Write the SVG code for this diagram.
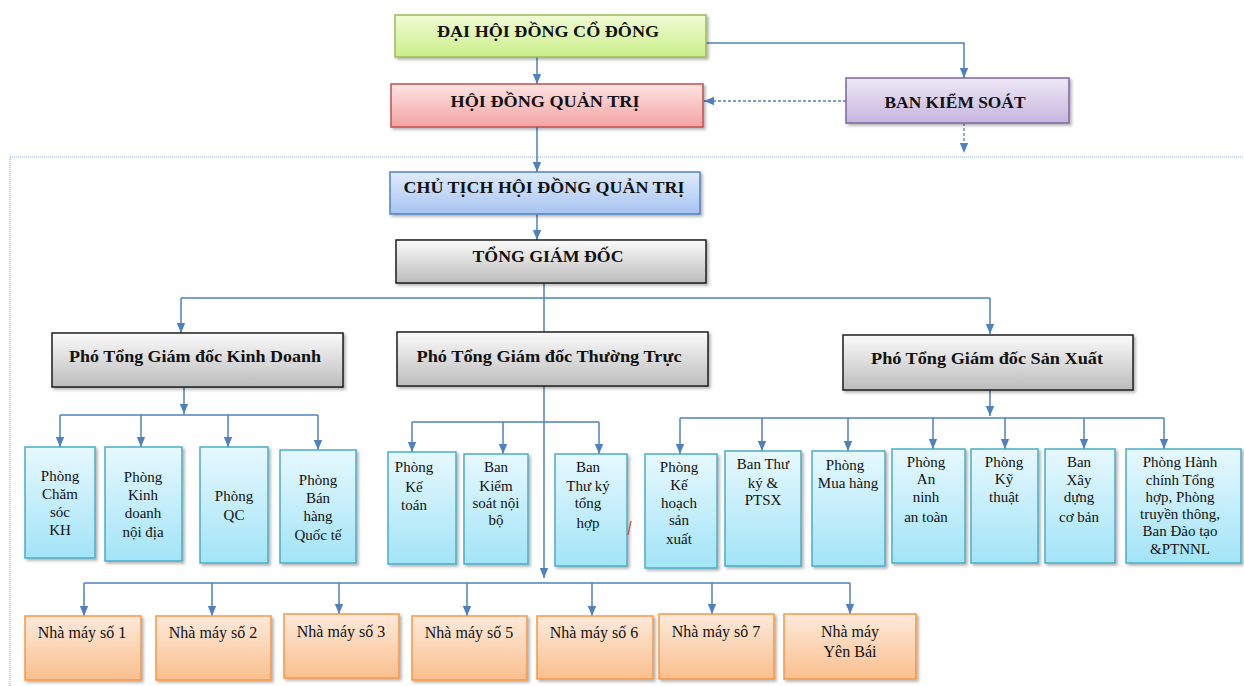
<svg xmlns="http://www.w3.org/2000/svg" width="1244" height="686" viewBox="0 0 1244 686">
<defs>
<linearGradient id="gGreen" x1="0" y1="0" x2="0" y2="1"><stop offset="0" stop-color="#f1fcd6"/><stop offset="1" stop-color="#c9ee88"/></linearGradient>
<linearGradient id="gRed" x1="0" y1="0" x2="0" y2="1"><stop offset="0" stop-color="#fde4e4"/><stop offset="1" stop-color="#f5a2a2"/></linearGradient>
<linearGradient id="gPurple" x1="0" y1="0" x2="0" y2="1"><stop offset="0" stop-color="#eee8f6"/><stop offset="1" stop-color="#c6b5df"/></linearGradient>
<linearGradient id="gBlue" x1="0" y1="0" x2="0" y2="1"><stop offset="0" stop-color="#e0ebfc"/><stop offset="1" stop-color="#a6c4f1"/></linearGradient>
<linearGradient id="gGray" x1="0" y1="0" x2="0" y2="1"><stop offset="0" stop-color="#fbfbfb"/><stop offset="1" stop-color="#bcbcbc"/></linearGradient>
<linearGradient id="gCyan" x1="0" y1="0" x2="0" y2="1"><stop offset="0" stop-color="#e7f8fe"/><stop offset="1" stop-color="#a2e4f7"/></linearGradient>
<linearGradient id="gOrange" x1="0" y1="0" x2="0" y2="1"><stop offset="0" stop-color="#fdeadb"/><stop offset="1" stop-color="#fbbf8e"/></linearGradient>
<filter id="sh" x="-10%" y="-10%" width="130%" height="140%"><feDropShadow dx="2" dy="2" stdDeviation="1.5" flood-color="#000" flood-opacity="0.3"/></filter>
<marker id="arr" markerUnits="userSpaceOnUse" markerWidth="10" markerHeight="10" viewBox="0 0 10 10" refX="10" refY="5" orient="auto"><path d="M0 0.8 L10 5 L0 9.2 Z" fill="#4f81bd"/></marker>
<style>
.box{filter:url(#sh);}
.green{fill:url(#gGreen);stroke:#9bbb59;stroke-width:1.5;}
.red{fill:url(#gRed);stroke:#c0504d;stroke-width:1.5;}
.purple{fill:url(#gPurple);stroke:#8064a2;stroke-width:1.5;}
.blue{fill:url(#gBlue);stroke:#4f81bd;stroke-width:1.5;}
.gray{fill:url(#gGray);stroke:#1e1e1e;stroke-width:1.5;}
.cyan{fill:url(#gCyan);stroke:#4bacc6;stroke-width:1.5;}
.orange{fill:url(#gOrange);stroke:#f79646;stroke-width:1.5;}
text{font-family:"Liberation Serif","Times New Roman",serif;fill:#111;text-anchor:middle;}
.t1{font-size:17px;font-weight:bold;}
.t2{font-size:16px;font-weight:bold;}
.t3{font-size:15px;}
.t4{font-size:16px;}
.ln{fill:none;stroke:#4f81bd;stroke-width:1.5;}
.la{fill:none;stroke:#4f81bd;stroke-width:1.5;marker-end:url(#arr);}
.ld{fill:none;stroke:#4f81bd;stroke-width:1.3;stroke-dasharray:3 2;marker-end:url(#arr);}
.dot{fill:none;stroke:#8eb4e3;stroke-width:1.2;stroke-dasharray:1 1;}
</style>
</defs>
<rect width="1244" height="686" fill="#ffffff"/>

<g id="frame">
<path class="dot" d="M10 157 H1244 M10 157 V686"/>
</g>

<g id="connectors">
<path class="la" d="M537 57 V84"/>
<path class="la" d="M706 43 H964 V78"/>
<path class="ld" d="M846 101 H704"/>
<path class="ld" d="M964 123 V153"/>
<path class="la" d="M537 127 V172"/>
<path class="la" d="M537 214 V240"/>
<path class="ln" d="M544 283 V332"/>
<path class="ln" d="M181 298 H990"/>
<path class="la" d="M181 298 V333"/>
<path class="la" d="M990 298 V334"/>
<path class="la" d="M184 387 V414"/>
<path class="ln" d="M60 415 H318"/>
<path class="la" d="M60 415 V447"/>
<path class="la" d="M141 415 V447"/>
<path class="la" d="M228 415 V447"/>
<path class="la" d="M318 415 V450"/>
<path class="la" d="M544 386 V578"/>
<path class="ln" d="M412 422 H599"/>
<path class="la" d="M412 422 V452"/>
<path class="la" d="M503 422 V454"/>
<path class="la" d="M599 422 V454"/>
<path class="la" d="M990 390 V416"/>
<path class="ln" d="M680 418 H1164"/>
<path class="la" d="M680 418 V454"/>
<path class="la" d="M762 418 V451"/>
<path class="la" d="M848 418 V451"/>
<path class="la" d="M933 418 V449"/>
<path class="la" d="M1005 418 V449"/>
<path class="la" d="M1084 418 V449"/>
<path class="la" d="M1164 418 V449"/>
<path class="ln" d="M84 583 H850"/>
<path class="la" d="M84 583 V616"/>
<path class="la" d="M212 583 V616"/>
<path class="la" d="M339 583 V614"/>
<path class="la" d="M467 583 V616"/>
<path class="la" d="M592 583 V616"/>
<path class="la" d="M712 583 V614"/>
<path class="la" d="M850 583 V614"/>
</g>

<g id="dhdcd"><rect class="box green" x="395" y="15" width="311" height="42"/><text class="t1" x="548" y="37" textLength="222" lengthAdjust="spacingAndGlyphs">ĐẠI HỘI ĐỒNG CỔ ĐÔNG</text></g>
<g id="hdqt"><rect class="box red" x="391" y="84" width="312" height="43"/><text class="t1" x="545" y="107" textLength="189" lengthAdjust="spacingAndGlyphs">HỘI ĐỒNG QUẢN TRỊ</text></g>
<g id="bks"><rect class="box purple" x="846" y="78" width="223" height="45"/><text class="t1" x="955" y="108" textLength="141" lengthAdjust="spacingAndGlyphs">BAN KIỂM SOÁT</text></g>
<g id="cthdqt"><rect class="box blue" x="390" y="172" width="310" height="42"/><text class="t1" x="544" y="193" textLength="281" lengthAdjust="spacingAndGlyphs">CHỦ TỊCH HỘI ĐỒNG QUẢN TRỊ</text></g>
<g id="tgd"><rect class="box gray" x="396" y="240" width="310" height="43"/><text class="t1" x="548" y="262" textLength="151" lengthAdjust="spacingAndGlyphs">TỔNG GIÁM ĐỐC</text></g>
<g id="ptgd-kd"><rect class="box gray" x="52" y="333" width="291" height="54"/><text class="t2" x="195" y="362" textLength="252" lengthAdjust="spacingAndGlyphs">Phó Tổng Giám đốc Kinh Doanh</text></g>
<g id="ptgd-tt"><rect class="box gray" x="397" y="332" width="311" height="54"/><text class="t2" x="549" y="362" textLength="265" lengthAdjust="spacingAndGlyphs">Phó Tổng Giám đốc Thường Trực</text></g>
<g id="ptgd-sx"><rect class="box gray" x="843" y="335" width="290" height="55"/><text class="t2" x="987" y="364" textLength="232" lengthAdjust="spacingAndGlyphs">Phó Tổng Giám đốc Sản Xuất</text></g>

<g id="p-cskh"><rect class="box cyan" x="25" y="447" width="70" height="111"/><text class="t3" x="60"><tspan x="60" y="481">Phòng</tspan><tspan x="60" y="499">Chăm</tspan><tspan x="60" y="517">sóc</tspan><tspan x="60" y="535">KH</tspan></text></g>
<g id="p-kdnd"><rect class="box cyan" x="105" y="447" width="77" height="114"/><text class="t3" x="143"><tspan x="143" y="482">Phòng</tspan><tspan x="143" y="500">Kinh</tspan><tspan x="143" y="518">doanh</tspan><tspan x="143" y="537">nội địa</tspan></text></g>
<g id="p-qc"><rect class="box cyan" x="200" y="447" width="68" height="116"/><text class="t3" x="234"><tspan x="234" y="501">Phòng</tspan><tspan x="234" y="520">QC</tspan></text></g>
<g id="p-bhqt"><rect class="box cyan" x="280" y="450" width="76" height="113"/><text class="t3" x="318"><tspan x="318" y="485">Phòng</tspan><tspan x="318" y="503">Bán</tspan><tspan x="318" y="521">hàng</tspan><tspan x="318" y="540">Quốc tế</tspan></text></g>

<g id="p-kt"><rect class="box cyan" x="388" y="452" width="68" height="112"/><text class="t3" x="414"><tspan x="414" y="472">Phòng</tspan><tspan x="414" y="492">Kế</tspan><tspan x="414" y="510">toán</tspan></text></g>
<g id="b-ksnb"><rect class="box cyan" x="464" y="454" width="64" height="110"/><text class="t3" x="496"><tspan x="496" y="472">Ban</tspan><tspan x="496" y="491">Kiểm</tspan><tspan x="496" y="508">soát nội</tspan><tspan x="496" y="525">bộ</tspan></text></g>
<g id="b-tkth"><rect class="box cyan" x="555" y="454" width="72" height="112"/><text class="t3" x="588"><tspan x="588" y="472">Ban</tspan><tspan x="588" y="491">Thư ký</tspan><tspan x="588" y="508">tổng</tspan><tspan x="588" y="528">hợp</tspan></text></g>
<g id="mark"><path d="M631 521 L628 535" stroke="#c0504d" stroke-width="1.2" fill="none"/></g>

<g id="p-khsx"><rect class="box cyan" x="645" y="454" width="72" height="114"/><text class="t3" x="679"><tspan x="679" y="472">Phòng</tspan><tspan x="679" y="490">Kế</tspan><tspan x="679" y="508">hoạch</tspan><tspan x="679" y="525">sản</tspan><tspan x="679" y="544">xuất</tspan></text></g>
<g id="b-tkptsx"><rect class="box cyan" x="725" y="451" width="76" height="115"/><text class="t3" x="763"><tspan x="763" y="469">Ban Thư</tspan><tspan x="763" y="488">ký &amp;</tspan><tspan x="763" y="505">PTSX</tspan></text></g>
<g id="p-mh"><rect class="box cyan" x="812" y="451" width="73" height="115"/><text class="t3" x="848"><tspan x="845" y="470">Phòng</tspan><tspan x="848" y="488">Mua hàng</tspan></text></g>
<g id="p-anat"><rect class="box cyan" x="892" y="449" width="73" height="114"/><text class="t3" x="926"><tspan x="926" y="467">Phòng</tspan><tspan x="926" y="484">An</tspan><tspan x="926" y="502">ninh</tspan><tspan x="926" y="522">an toàn</tspan></text></g>
<g id="p-kythuat"><rect class="box cyan" x="971" y="449" width="67" height="114"/><text class="t3" x="1004"><tspan x="1004" y="467">Phòng</tspan><tspan x="1004" y="484">Kỹ</tspan><tspan x="1004" y="502">thuật</tspan></text></g>
<g id="b-xdcb"><rect class="box cyan" x="1045" y="449" width="70" height="114"/><text class="t3" x="1079"><tspan x="1079" y="467">Ban</tspan><tspan x="1079" y="485">Xây</tspan><tspan x="1079" y="502">dựng</tspan><tspan x="1079" y="522">cơ bản</tspan></text></g>
<g id="p-hcth"><rect class="box cyan" x="1126" y="449" width="115" height="114"/><text class="t3" x="1180"><tspan x="1180" y="467">Phòng Hành</tspan><tspan x="1180" y="485">chính Tổng</tspan><tspan x="1180" y="502">hợp, Phòng</tspan><tspan x="1180" y="519">truyền thông,</tspan><tspan x="1180" y="536">Ban Đào tạo</tspan><tspan x="1180" y="554">&amp;PTNNL</tspan></text></g>

<g id="nm1"><rect class="box orange" x="25" y="616" width="116" height="64"/><text class="t4" x="82" y="638">Nhà máy số 1</text></g>
<g id="nm2"><rect class="box orange" x="156" y="616" width="115" height="64"/><text class="t4" x="213" y="638">Nhà máy số 2</text></g>
<g id="nm3"><rect class="box orange" x="284" y="614" width="115" height="64"/><text class="t4" x="341" y="637">Nhà máy số 3</text></g>
<g id="nm5"><rect class="box orange" x="412" y="616" width="115" height="64"/><text class="t4" x="469" y="638">Nhà máy số 5</text></g>
<g id="nm6"><rect class="box orange" x="537" y="616" width="116" height="63"/><text class="t4" x="594" y="638">Nhà máy số 6</text></g>
<g id="nm7"><rect class="box orange" x="659" y="614" width="115" height="65"/><text class="t4" x="716" y="637">Nhà máy sô 7</text></g>
<g id="nmyb"><rect class="box orange" x="784" y="614" width="132" height="65"/><text class="t4" x="850"><tspan x="850" y="637">Nhà máy</tspan><tspan x="850" y="657">Yên Bái</tspan></text></g>
</svg>
